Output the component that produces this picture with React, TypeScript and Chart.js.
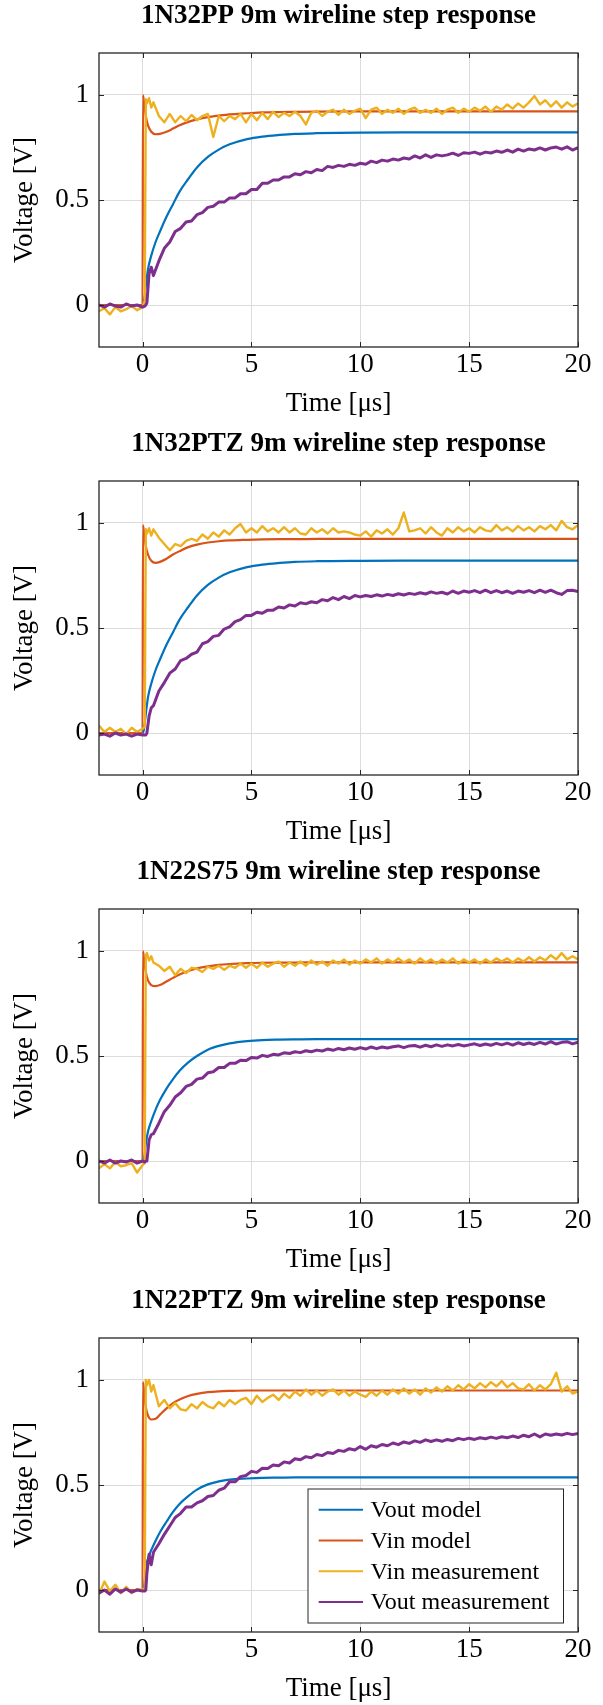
import React, { useEffect, useRef } from 'react';
import { Chart, registerables } from 'chart.js';

Chart.register(...registerables);

const FONT = "'Liberation Serif', 'Times New Roman', serif";

const chartTitles = [
  '1N32PP 9m wireline step response',
  '1N32PTZ 9m wireline step response',
  '1N22S75 9m wireline step response',
  '1N22PTZ 9m wireline step response',
];
const seriesLabels = ['Vout model', 'Vin model', 'Vin measurement', 'Vout measurement'];
const seriesColors = ['#0072BD', '#D95319', '#EDB120', '#7E2F8E'];
const xTickValues = [0, 5, 10, 15, 20];
const yTickValues = [0, 0.5, 1];
const xLabel = 'Time [μs]';
const yLabel = 'Voltage [V]';

const modelTime = [-2, 0, 0.02, 0.08, 0.15, 0.25, 0.4, 0.6, 0.8, 1.1, 1.4, 1.7, 2.1, 2.5, 3, 3.5, 4, 4.8, 5.5, 6.3, 7, 8, 10, 12, 15, 20];

const measTime = [
  -2, -1.75, -1.5, -1.25, -1, -0.75, -0.5, -0.25, 0,
  0.1, 0.15, 0.2, 0.3, 0.4, 0.5,
  0.75,
  1, 1.25, 1.5, 1.75, 2, 2.25, 2.5, 2.75, 3, 3.25, 3.5, 3.75, 4, 4.25, 4.5, 4.75,
  5, 5.25, 5.5, 5.75, 6, 6.25, 6.5, 6.75, 7, 7.25, 7.5, 7.75, 8, 8.25, 8.5, 8.75,
  9, 9.25, 9.5, 9.75, 10, 10.25, 10.5, 10.75, 11, 11.25, 11.5, 11.75, 12, 12.25, 12.5, 12.75,
  13, 13.25, 13.5, 13.75, 14, 14.25, 14.5, 14.75, 15, 15.25, 15.5, 15.75, 16, 16.25, 16.5, 16.75,
  17, 17.25, 17.5, 17.75, 18, 18.25, 18.5, 18.75, 19, 19.25, 19.5, 19.75,
  20,
];

// ---- Chart 1: 1N32PP ----
const voutModel1 = [0, 0, 0, 0.03, 0.09, 0.17, 0.235, 0.3, 0.35, 0.42, 0.48, 0.54, 0.6, 0.655, 0.705, 0.74, 0.765, 0.79, 0.802, 0.81, 0.815, 0.818, 0.821, 0.822, 0.822, 0.822];
const vinModel1 = [0, 0, 1.0, 0.95, 0.9, 0.855, 0.825, 0.813, 0.815, 0.825, 0.84, 0.856, 0.872, 0.884, 0.895, 0.902, 0.908, 0.913, 0.917, 0.919, 0.92, 0.921, 0.922, 0.922, 0.922, 0.922];
const vinMeas1 = [
  -0.03, -0.015, -0.045, -0.01, -0.03, -0.02, -0.005, -0.025, -0.01,
  0.02, 0.98, 0.96, 0.985, 0.94, 0.965,
  0.9,
  0.87, 0.91, 0.87, 0.9,
  0.875, 0.905, 0.88, 0.9,
  0.91, 0.8, 0.9, 0.875,
  0.9, 0.885, 0.91, 0.87,
  0.91, 0.88, 0.915, 0.885,
  0.92, 0.895, 0.915, 0.9,
  0.92, 0.9, 0.86, 0.915,
  0.925, 0.9, 0.92, 0.93,
  0.905, 0.93, 0.91, 0.925,
  0.935, 0.89, 0.93, 0.94,
  0.91, 0.93, 0.915, 0.935,
  0.91, 0.93, 0.94, 0.915,
  0.93, 0.915, 0.935, 0.91,
  0.93, 0.94, 0.915, 0.935,
  0.92, 0.94, 0.925, 0.945,
  0.92, 0.945, 0.93, 0.955,
  0.935, 0.96, 0.94, 0.965,
  0.995, 0.955, 0.975, 0.945,
  0.97, 0.94, 0.965, 0.945,
  0.96,
];
const voutMeas1 = [
  0.0, -0.01, 0.005, -0.005, -0.01, 0.005, -0.005, 0.0, -0.01,
  -0.005, 0.0, 0.01, 0.15, 0.18, 0.14,
  0.21,
  0.27, 0.3, 0.35, 0.365,
  0.395, 0.4, 0.43, 0.44,
  0.465, 0.47, 0.49, 0.49,
  0.51, 0.51, 0.53, 0.53,
  0.55, 0.55, 0.58, 0.58,
  0.595, 0.595, 0.61, 0.61,
  0.625, 0.62, 0.635, 0.63,
  0.645, 0.64, 0.66, 0.655,
  0.665, 0.66, 0.67, 0.665,
  0.675, 0.67, 0.685, 0.678,
  0.69, 0.685, 0.695, 0.69,
  0.7, 0.695, 0.71, 0.7,
  0.715, 0.703, 0.715, 0.71,
  0.715, 0.723, 0.712, 0.725,
  0.722, 0.728, 0.718, 0.728,
  0.724, 0.733, 0.727, 0.738,
  0.728, 0.742, 0.733, 0.743,
  0.738, 0.748, 0.738, 0.748,
  0.752, 0.742, 0.753, 0.738,
  0.75,
];

// ---- Chart 2: 1N32PTZ ----
const voutModel2 = [0, 0, 0, 0.03, 0.09, 0.17, 0.235, 0.3, 0.35, 0.42, 0.48, 0.54, 0.6, 0.655, 0.705, 0.74, 0.765, 0.79, 0.802, 0.81, 0.815, 0.818, 0.82, 0.821, 0.821, 0.821];
const vinModel2 = [0, 0, 0.99, 0.94, 0.89, 0.85, 0.82, 0.81, 0.815, 0.83, 0.85, 0.866, 0.885, 0.897, 0.907, 0.913, 0.917, 0.92, 0.922, 0.923, 0.923, 0.924, 0.924, 0.924, 0.924, 0.924];
const vinMeas2 = [
  0.035, 0.005, 0.025, 0.005, 0.02, -0.005, 0.025, 0.005, 0.02,
  0.03, 0.97, 0.95, 0.975, 0.94, 0.97,
  0.93,
  0.9, 0.87, 0.9, 0.89,
  0.915, 0.925, 0.915, 0.945,
  0.925, 0.955, 0.935, 0.965,
  0.945, 0.975, 0.995, 0.955,
  0.975, 0.955, 0.985, 0.96,
  0.975, 0.955, 0.98, 0.955,
  0.975, 0.95, 0.945, 0.975,
  0.955, 0.97, 0.95, 0.975,
  0.955, 0.96, 0.955, 0.945,
  0.94, 0.96, 0.935, 0.965,
  0.95, 0.97, 0.945, 0.975,
  1.05, 0.96, 0.965, 0.975,
  0.95, 0.98, 0.955, 0.94,
  0.975, 0.955, 0.98, 0.96,
  0.975, 0.955, 0.98, 0.965,
  0.96, 0.99, 0.965, 0.98,
  0.96, 0.985, 0.965, 0.98,
  0.96, 0.985, 0.97, 0.99,
  0.965, 1.01, 0.98, 0.97,
  0.99,
];
const voutMeas2 = [
  -0.01, -0.005, -0.015, 0.0, -0.01, -0.005, -0.015, -0.005, -0.01,
  -0.01, -0.01, 0.0, 0.08, 0.12, 0.13,
  0.2,
  0.24, 0.285, 0.305, 0.345,
  0.355, 0.375, 0.385, 0.425,
  0.435, 0.46, 0.465, 0.495,
  0.505, 0.53, 0.54, 0.56,
  0.56, 0.575, 0.57, 0.585,
  0.585, 0.6, 0.595, 0.61,
  0.605, 0.62, 0.615, 0.625,
  0.62, 0.635, 0.63, 0.645,
  0.635, 0.65, 0.64, 0.655,
  0.648, 0.655, 0.65, 0.658,
  0.652, 0.66, 0.655, 0.663,
  0.657, 0.665, 0.66, 0.668,
  0.662, 0.672, 0.665, 0.67,
  0.662, 0.676, 0.665, 0.676,
  0.67, 0.678, 0.668, 0.68,
  0.668, 0.678, 0.668, 0.676,
  0.665, 0.676, 0.67, 0.678,
  0.668, 0.68, 0.67, 0.68,
  0.668, 0.66, 0.678, 0.68,
  0.673,
];

// ---- Chart 3: 1N22S75 ----
const voutModel3 = [0, 0, 0, 0.02, 0.08, 0.14, 0.19, 0.245, 0.29, 0.345, 0.39, 0.43, 0.47, 0.5, 0.53, 0.548, 0.56, 0.571, 0.576, 0.578, 0.579, 0.58, 0.58, 0.58, 0.58, 0.58];
const vinModel3 = [0, 0, 1.0, 0.95, 0.9, 0.86, 0.838, 0.833, 0.838, 0.855, 0.872, 0.888, 0.905, 0.917, 0.927, 0.934, 0.938, 0.942, 0.944, 0.945, 0.945, 0.946, 0.946, 0.946, 0.946, 0.946];
const vinMeas3 = [
  -0.035, -0.015, -0.035, -0.005, -0.025, -0.02, -0.01, -0.055, -0.02,
  -0.01, 0.98, 0.99, 0.955, 0.975, 0.945,
  0.93,
  0.905, 0.925, 0.885, 0.915,
  0.895, 0.92, 0.915, 0.9,
  0.925, 0.915, 0.93, 0.91,
  0.93, 0.92, 0.94, 0.92,
  0.94, 0.92, 0.945, 0.925,
  0.94, 0.95, 0.925, 0.945,
  0.93, 0.95, 0.93, 0.955,
  0.935, 0.95, 0.93, 0.955,
  0.94, 0.96, 0.935, 0.955,
  0.94, 0.96, 0.945, 0.965,
  0.94, 0.96, 0.945, 0.965,
  0.945, 0.96, 0.94, 0.965,
  0.945, 0.96, 0.94, 0.96,
  0.945, 0.965, 0.94, 0.96,
  0.945, 0.96, 0.94, 0.96,
  0.945, 0.965, 0.95, 0.965,
  0.945, 0.965, 0.95, 0.97,
  0.95, 0.97, 0.955, 0.98,
  0.96, 0.99, 0.96, 0.975,
  0.96,
];
const voutMeas3 = [
  0.0, -0.01, 0.005, -0.01, 0.0, -0.005, 0.005, -0.01, 0.0,
  -0.005, 0.0, 0.0, 0.1, 0.125, 0.13,
  0.18,
  0.235, 0.265, 0.305, 0.325,
  0.355, 0.365, 0.39, 0.395,
  0.42, 0.425, 0.445, 0.445,
  0.465, 0.465, 0.48, 0.478,
  0.493, 0.49, 0.503, 0.498,
  0.508, 0.505, 0.515, 0.512,
  0.52, 0.516, 0.525, 0.52,
  0.528, 0.524, 0.533, 0.527,
  0.536, 0.53, 0.538, 0.532,
  0.54, 0.533, 0.543, 0.535,
  0.543, 0.538, 0.544, 0.548,
  0.54, 0.548, 0.55, 0.542,
  0.551, 0.544, 0.553, 0.546,
  0.553, 0.548, 0.555, 0.548,
  0.553, 0.558, 0.55, 0.557,
  0.551, 0.56, 0.553, 0.561,
  0.552, 0.563, 0.555, 0.562,
  0.555, 0.565, 0.557, 0.568,
  0.557, 0.565, 0.568, 0.558,
  0.566,
];

// ---- Chart 4: 1N22PTZ ----
const voutModel4 = [0, 0, 0, 0.03, 0.11, 0.15, 0.19, 0.235, 0.275, 0.325, 0.372, 0.41, 0.447, 0.478, 0.503, 0.517, 0.526, 0.531, 0.534, 0.535, 0.536, 0.536, 0.536, 0.536, 0.536, 0.536];
const vinModel4 = [0, 0, 0.99, 0.93, 0.87, 0.83, 0.812, 0.815, 0.835, 0.865, 0.89, 0.907, 0.924, 0.934, 0.942, 0.946, 0.948, 0.95, 0.95, 0.95, 0.95, 0.95, 0.95, 0.95, 0.95, 0.95];
const vinMeas4 = [
  -0.02, 0.04, -0.005, 0.025, -0.015, 0.015, -0.015, 0.005, 0.0,
  0.01, 1.0, 0.975, 1.0, 0.945, 0.975,
  0.875,
  0.905, 0.865, 0.89, 0.86,
  0.855, 0.885, 0.865, 0.895,
  0.875, 0.865, 0.895, 0.875,
  0.905, 0.885, 0.905, 0.915,
  0.885, 0.925, 0.895, 0.915,
  0.93, 0.905, 0.935, 0.915,
  0.945, 0.925, 0.955, 0.93,
  0.95, 0.925, 0.945, 0.955,
  0.93, 0.95, 0.925, 0.945,
  0.93, 0.92, 0.945, 0.925,
  0.95, 0.93, 0.955, 0.935,
  0.96, 0.935, 0.955, 0.93,
  0.96, 0.94, 0.965, 0.945,
  0.97, 0.95, 0.975, 0.955,
  0.98, 0.96, 0.985, 0.965,
  0.99, 0.97, 0.995, 0.965,
  0.985, 0.96, 0.955, 0.98,
  0.95, 0.975, 0.955, 0.98,
  1.035, 0.945, 0.97, 0.935,
  0.945,
];
const voutMeas4 = [
  -0.015, 0.0, -0.02, 0.005, -0.01, 0.005, -0.01, 0.0, -0.005,
  -0.005, 0.0, 0.08, 0.17, 0.12, 0.18,
  0.22,
  0.265, 0.305, 0.345, 0.365,
  0.395, 0.395, 0.415, 0.425,
  0.445, 0.45, 0.475, 0.485,
  0.515, 0.515, 0.54, 0.545,
  0.565, 0.56, 0.58, 0.578,
  0.595, 0.592, 0.61, 0.605,
  0.625, 0.62, 0.635, 0.63,
  0.645, 0.64, 0.655, 0.65,
  0.665, 0.66, 0.673, 0.667,
  0.683, 0.67, 0.687, 0.68,
  0.693, 0.687, 0.7, 0.692,
  0.705, 0.698, 0.71, 0.703,
  0.715, 0.707, 0.715, 0.708,
  0.717, 0.711, 0.722, 0.716,
  0.723, 0.717, 0.725, 0.72,
  0.728, 0.722, 0.73, 0.725,
  0.733, 0.726, 0.737, 0.73,
  0.743, 0.729, 0.743, 0.737,
  0.743, 0.738, 0.746, 0.74,
  0.745,
];

const chartSeries = [
  [voutModel1, vinModel1, vinMeas1, voutMeas1],
  [voutModel2, vinModel2, vinMeas2, voutMeas2],
  [voutModel3, vinModel3, vinMeas3, voutMeas3],
  [voutModel4, vinModel4, vinMeas4, voutMeas4],
];
const canvasTops = [0, 428, 856, 1285];

function pair(xs: number[], ys: number[]) {
  return xs.map((x, i) => ({ x, y: ys[i] }));
}

const framePlugin = {
  id: 'frame',
  afterDatasetsDraw(chart: any) {
    const { ctx, chartArea, scales } = chart;
    const { left, right, top, bottom } = chartArea;
    ctx.save();
    ctx.strokeStyle = '#262626';
    ctx.lineWidth = 1;
    ctx.beginPath();
    xTickValues.forEach((v) => {
      const px = Math.round(scales.x.getPixelForValue(v)) + 0.5;
      ctx.moveTo(px, bottom);
      ctx.lineTo(px, bottom - 5);
      ctx.moveTo(px, top);
      ctx.lineTo(px, top + 5);
    });
    yTickValues.forEach((v) => {
      const py = Math.round(scales.y.getPixelForValue(v)) + 0.5;
      ctx.moveTo(left, py);
      ctx.lineTo(left + 5, py);
      ctx.moveTo(right, py);
      ctx.lineTo(right - 5, py);
    });
    ctx.stroke();
    ctx.lineWidth = 1.3;
    ctx.strokeRect(left, top, right - left, bottom - top);
    ctx.restore();
  },
};

const boxLegendPlugin = {
  id: 'boxLegend',
  afterDraw(chart: any) {
    const { ctx, chartArea } = chart;
    const w = 255.5;
    const h = 134;
    const bx = chartArea.right - 14.5 - w;
    const by = chartArea.bottom - 9 - h;
    ctx.save();
    ctx.fillStyle = '#ffffff';
    ctx.fillRect(bx, by, w, h);
    ctx.strokeStyle = '#262626';
    ctx.lineWidth = 1;
    ctx.strokeRect(bx, by, w, h);
    ctx.font = `24px ${FONT}`;
    ctx.textBaseline = 'middle';
    ctx.textAlign = 'left';
    chart.data.datasets.forEach((ds: any, i: number) => {
      const ry = by + 20.7 + i * 30.8;
      ctx.strokeStyle = ds.borderColor;
      ctx.lineWidth = 2;
      ctx.beginPath();
      ctx.moveTo(bx + 10.7, ry);
      ctx.lineTo(bx + 55, ry);
      ctx.stroke();
      ctx.fillStyle = '#000000';
      ctx.fillText(ds.label, bx + 62.6, ry + 1);
    });
    ctx.restore();
  },
};

function StepChart({ index }: { index: number }) {
  const ref = useRef<HTMLCanvasElement>(null);
  useEffect(() => {
    const canvas = ref.current;
    if (!canvas) return;
    const [vm, im, iM, oM] = chartSeries[index];
    const base = { pointRadius: 0, fill: false, borderJoinStyle: 'round', tension: 0 };
    const datasets: any[] = [
      { ...base, label: seriesLabels[0], data: pair(modelTime, vm), borderColor: seriesColors[0], borderWidth: 2.2, cubicInterpolationMode: 'monotone', order: 3 },
      { ...base, label: seriesLabels[1], data: pair(modelTime, im), borderColor: seriesColors[1], borderWidth: 2.2, cubicInterpolationMode: 'monotone', order: 2 },
      { ...base, label: seriesLabels[2], data: pair(measTime, iM), borderColor: seriesColors[2], borderWidth: 2.4, order: 1 },
      { ...base, label: seriesLabels[3], data: pair(measTime, oM), borderColor: seriesColors[3], borderWidth: 3, order: 0 },
    ];
    const plugins: any[] = [framePlugin];
    if (index === 3) plugins.push(boxLegendPlugin);
    const chart = new Chart(canvas, {
      type: 'line',
      data: { datasets },
      options: {
        responsive: false,
        animation: false,
        events: [],
        layout: { padding: { left: 0, right: 25, top: 0, bottom: 0 } },
        plugins: {
          legend: { display: false },
          tooltip: { enabled: false },
          title: {
            display: true,
            text: chartTitles[index],
            fullSize: false,
            color: '#000000',
            font: { family: FONT, size: 27, weight: 'bold' },
            padding: { top: 0, bottom: 20.6 },
          },
        },
        scales: {
          x: {
            type: 'linear',
            min: -2,
            max: 20,
            afterBuildTicks: (axis: any) => {
              axis.ticks = xTickValues.map((v) => ({ value: v }));
            },
            afterFit: (axis: any) => {
              axis.height = 81;
            },
            ticks: {
              color: '#000000',
              font: { family: FONT, size: 27 },
              padding: 2,
              maxRotation: 0,
              autoSkip: false,
              callback: (v: any) => String(v),
            },
            grid: { color: '#dcdcdc', lineWidth: 1, drawTicks: false },
            border: { display: false },
            title: {
              display: true,
              text: xLabel,
              color: '#000000',
              font: { family: FONT, size: 27 },
              padding: { top: 0, bottom: 8 },
            },
          },
          y: {
            type: 'linear',
            min: -0.2,
            max: 1.2,
            afterBuildTicks: (axis: any) => {
              axis.ticks = yTickValues.map((v) => ({ value: v }));
            },
            afterFit: (axis: any) => {
              axis.width = 99;
            },
            ticks: {
              color: '#000000',
              font: { family: FONT, size: 27 },
              padding: 10,
              autoSkip: false,
              callback: (v: any) => String(v),
            },
            grid: { color: '#dcdcdc', lineWidth: 1, drawTicks: false },
            border: { display: false },
            title: {
              display: true,
              text: yLabel,
              color: '#000000',
              font: { family: FONT, size: 27 },
              padding: { top: 9, bottom: 0 },
            },
          },
        },
      } as any,
      plugins,
    });
    return () => chart.destroy();
  }, [index]);
  return (
    <canvas
      ref={ref}
      width={603}
      height={428}
      style={{ position: 'absolute', left: 0, top: canvasTops[index], width: 603, height: 428, display: 'block' }}
    />
  );
}

export default function App() {
  return (
    <div style={{ position: 'absolute', left: 0, top: 0, width: 603, height: 1705, background: '#ffffff', overflow: 'hidden' }}>
      {chartTitles.map((_, i) => (
        <StepChart key={i} index={i} />
      ))}
    </div>
  );
}
